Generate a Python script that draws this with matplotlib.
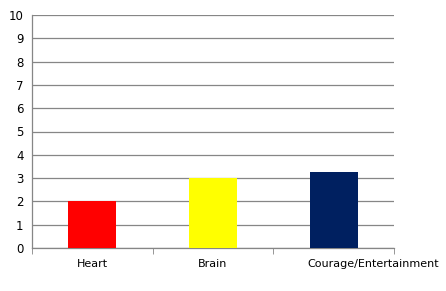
import matplotlib
matplotlib.use("Agg")
import matplotlib.pyplot as plt
from matplotlib.transforms import ScaledTranslation

categories = ["Heart", "Brain", "Courage/Entertainment"]
values = [2, 3, 3.27]
colors = ["#FF0000", "#FFFF00", "#002060"]
yticks = list(range(0, 11))

fig = plt.figure(figsize=(4.46, 2.91), dpi=100)
ax = fig.add_axes([32/446, 43/291, 362/446, 233/291])
x = list(range(len(categories)))
ax.bar(x, values, width=0.4, color=colors, zorder=3)
ax.set_xlim(-0.5, 2.5)
ax.set_ylim(0, 10)
ax.set_yticks(yticks)
ax.set_yticklabels([str(t) for t in yticks])
ax.set_xticks(x)
ax.set_xticklabels(categories)
ax.set_xticks([-0.5, 0.5, 1.5, 2.5], minor=True)
ax.tick_params(axis='x', which='major', length=0, pad=8, labelsize=8, colors='black')
ax.tick_params(axis='x', which='minor', length=4, color='#868686', direction='out')
ax.tick_params(axis='y', length=0, pad=6, labelsize=8.5)
lbl = ax.get_xticklabels()[2]
lbl.set_transform(lbl.get_transform() + ScaledTranslation(0.40, 0, fig.dpi_scale_trans))
ax.grid(axis='y', color='#868686', linewidth=0.9, zorder=0)
for s in ['top', 'right']:
    ax.spines[s].set_visible(False)
for s in ['left', 'bottom']:
    ax.spines[s].set_color('#868686')
    ax.spines[s].set_linewidth(0.9)
fig.savefig("out.png", dpi=100)
